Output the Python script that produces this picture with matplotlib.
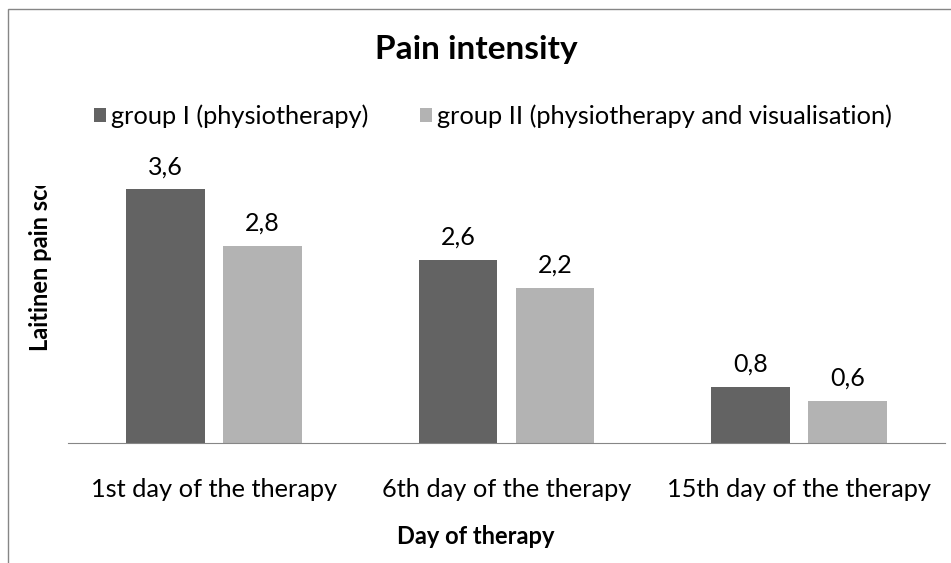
import matplotlib
matplotlib.use("Agg")
import matplotlib.pyplot as plt
from matplotlib.patches import Rectangle
from matplotlib.transforms import Bbox, TransformedBbox
import numpy as np

plt.rcParams['font.family'] = ['Lato', 'DejaVu Sans']

# Donnees du graphique
days = ["1st day of the therapy", "6th day of the therapy", "15th day of the therapy"]
group1 = [3.6, 2.6, 0.8]
group2 = [2.8, 2.2, 0.6]
label1 = "group I (physiotherapy)"
label2 = "group II (physiotherapy and visualisation)"

dark = "#636363"
light = "#b3b3b3"

W, H = 951, 563
fig = plt.figure(figsize=(W / 100, H / 100), dpi=100)

# Zone du graphique en pixels : x 68..945, base y=443
left, right, bottom = 68, 945, 443
top = 161
ax = fig.add_axes([left / W, 1 - bottom / H, (right - left) / W, (bottom - top) / H])

x = np.arange(len(days))
w = 0.27
off = 0.166
b1 = ax.bar(x - off, group1, w, color=dark, label=label1)
b2 = ax.bar(x + off, group2, w, color=light, label=label2)

for bars, vals in ((b1, group1), (b2, group2)):
    for r, v in zip(bars, vals):
        ax.annotate(str(v).replace(".", ","), (r.get_x() + r.get_width() / 2, v),
                    xytext=(0, 8), textcoords="offset points",
                    ha="center", va="bottom", fontsize=18)

ax.set_xlim(-0.5, 2.5)
ax.set_ylim(0, 4)
ax.set_yticks([])
ax.set_xticks(x)
ax.set_xticklabels(days, fontsize=18.3)
ax.tick_params(axis="x", length=0, pad=25)
for s in ("top", "right", "left"):
    ax.spines[s].set_visible(False)
ax.spines["bottom"].set_color("#868686")

fig.text(476 / W, 1 - 49 / H, "Pain intensity", ha="center", va="center",
         fontsize=24, fontweight="bold")
fig.text(476 / W, 1 - 536 / H, "Day of therapy", ha="center", va="center",
         fontsize=17, fontweight="bold")

# etiquette de l'axe y coupee comme dans l'original
yl = fig.text(41 / W, 1 - 351 / H, "Laitinen pain score", rotation=90,
              ha="center", va="bottom", fontsize=17, fontweight="bold")
yl.set_clip_box(TransformedBbox(Bbox([[0, 0], [1, 1 - 186 / H]]), fig.transFigure))
yl.set_clip_on(True)

fig.legend(handles=[b1, b2], loc="center", bbox_to_anchor=(493 / W, 1 - 116 / H),
           ncol=2, frameon=False, fontsize=18.3, handlelength=0.5, handleheight=0.5,
           handletextpad=0.2, columnspacing=2.0)

# cadre gris partiel
fig.patches.append(Rectangle((8 / W, -0.1), 1.2, 1.1 - 9 / H, transform=fig.transFigure,
                             fill=False, edgecolor="#868686", linewidth=1))

fig.savefig("out.png", dpi=100)
